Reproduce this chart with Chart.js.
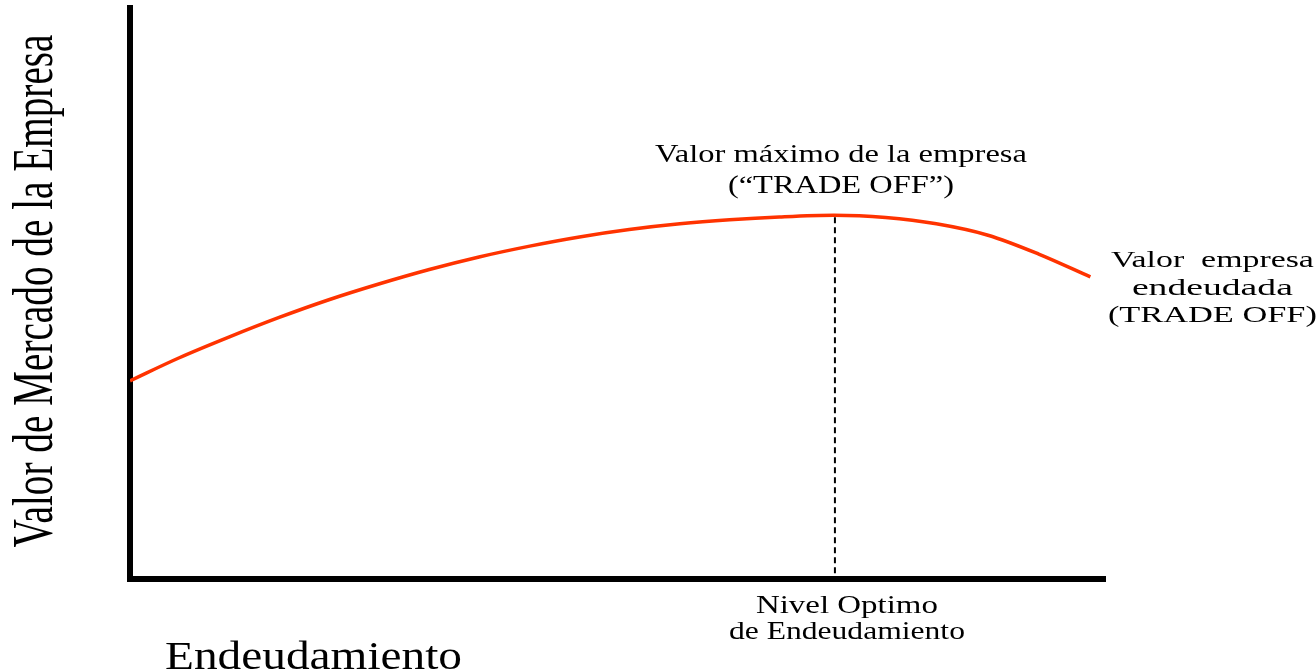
<!DOCTYPE html>
<html>
<head>
<meta charset="utf-8">
<script src="https://cdn.jsdelivr.net/npm/chart.js@4"></script>
<style>
  body { margin: 0; background: #fff; }
  #wrap { width: 1316px; height: 671px; }
</style>
</head>
<body>
<div id="wrap"><canvas id="myChart" width="1316" height="671"></canvas></div>
<script>
// curve of firm value vs debt level
var debtLevels = [0, 5.0, 10.2, 15.3, 20.4, 25.6, 30.7, 35.8, 41.0, 46.1, 51.2, 56.4, 61.5, 66.6, 72.2, 77.5, 82.7, 88.0, 93.2, 98.5];
var firmValues = [34.7, 38.7, 42.4, 45.8, 48.9, 51.7, 54.2, 56.4, 58.3, 59.9, 61.2, 62.2, 62.9, 63.4, 63.7, 63.3, 62.2, 60.2, 56.9, 52.9];

// vertical marker at the optimal debt level
var optimoX = [72.3, 72.3];
var optimoY = [1, 63.7];

var yTitle = 'Valor de Mercado de la Empresa';
var xTitle = 'Endeudamiento';
var peakLabel = ['Valor máximo de la empresa', '(“TRADE OFF”)'];
var endLabel = ['Valor  empresa', 'endeudada', '(TRADE OFF)'];
var optimoLabel = ['Nivel Optimo', 'de Endeudamiento'];

var serif = '"Liberation Serif", "Times New Roman", serif';

// draws text stretched to a given width (the original picture is widened)
function drawStretched(ctx, text, x, y, size, width, align) {
    ctx.save();
    ctx.font = size + 'px ' + serif;
    let w = ctx.measureText(text).width;
    let sx = width / w;
    ctx.translate(x, y);
    ctx.scale(sx, 1);
    ctx.textAlign = align || 'center';
    ctx.textBaseline = 'alphabetic';
    ctx.fillStyle = '#000';
    ctx.fillText(text, 0, 0);
    ctx.restore();
}

var labelsPlugin = {
    id: 'labels',
    afterDraw(chart) {
        let ctx = chart.ctx;
        let xs = chart.scales.x;
        let ys = chart.scales.y;
        let area = chart.chartArea;

        // y axis title, rotated and condensed
        ctx.save();
        ctx.font = '39px ' + serif;
        let len = ctx.measureText(yTitle).width;
        ctx.translate(52, 291);
        ctx.rotate(-Math.PI / 2);
        ctx.scale(513 / len, 1.44);
        ctx.textAlign = 'center';
        ctx.fillStyle = '#000';
        ctx.fillText(yTitle, 0, 0);
        ctx.restore();

        // x axis title, bottom left
        drawStretched(ctx, xTitle, area.left + 35, 669, 39, 297, 'left');

        // label over the peak
        let peakPx = xs.getPixelForValue(optimoX[0]);
        let peakPy = ys.getPixelForValue(optimoY[1]);
        drawStretched(ctx, peakLabel[0], peakPx + 6, peakPy - 53, 26, 372);
        drawStretched(ctx, peakLabel[1], peakPx + 6, peakPy - 22, 26, 226);

        // label at the end of the curve
        let endPx = xs.getPixelForValue(debtLevels[debtLevels.length - 1]);
        let endPy = ys.getPixelForValue(firmValues[firmValues.length - 1]);
        drawStretched(ctx, endLabel[0], endPx + 122, endPy - 10, 24, 203);
        drawStretched(ctx, endLabel[1], endPx + 122, endPy + 18, 24, 161);
        drawStretched(ctx, endLabel[2], endPx + 122, endPy + 45, 24, 209);

        // label under the optimum
        drawStretched(ctx, optimoLabel[0], peakPx + 12, area.bottom + 34, 25, 182);
        drawStretched(ctx, optimoLabel[1], peakPx + 12, area.bottom + 60, 25, 236);
    }
};

let curveData = debtLevels.map((d, i) => ({ x: d, y: firmValues[i] }));
let optimoData = optimoX.map((d, i) => ({ x: d, y: optimoY[i] }));

let ctx = document.getElementById('myChart').getContext('2d');
window.myChart = new Chart(ctx, {
    type: 'line',
    data: {
        datasets: [{
            label: 'Valor empresa endeudada',
            data: curveData,
            borderColor: '#ff3300',
            borderWidth: 3.5,
            pointRadius: 0,
            cubicInterpolationMode: 'monotone',
            fill: false
        }, {
            label: 'Nivel Optimo',
            data: optimoData,
            borderColor: '#000',
            borderWidth: 2,
            borderDash: [6, 4],
            pointRadius: 0,
            fill: false
        }]
    },
    options: {
        responsive: false,
        animation: false,
        devicePixelRatio: 1,
        layout: {
            padding: { left: 130, top: 8, right: 211, bottom: 92 }
        },
        scales: {
            x: {
                type: 'linear',
                min: 0,
                max: 100,
                grid: { display: false, drawTicks: false },
                ticks: { display: false },
                border: { display: true, color: '#000', width: 6 }
            },
            y: {
                type: 'linear',
                min: 0,
                max: 100,
                grid: { display: false, drawTicks: false },
                ticks: { display: false },
                border: { display: true, color: '#000', width: 6 }
            }
        },
        plugins: {
            legend: { display: false },
            tooltip: { enabled: false }
        }
    },
    plugins: [labelsPlugin]
});
</script>
</body>
</html>
